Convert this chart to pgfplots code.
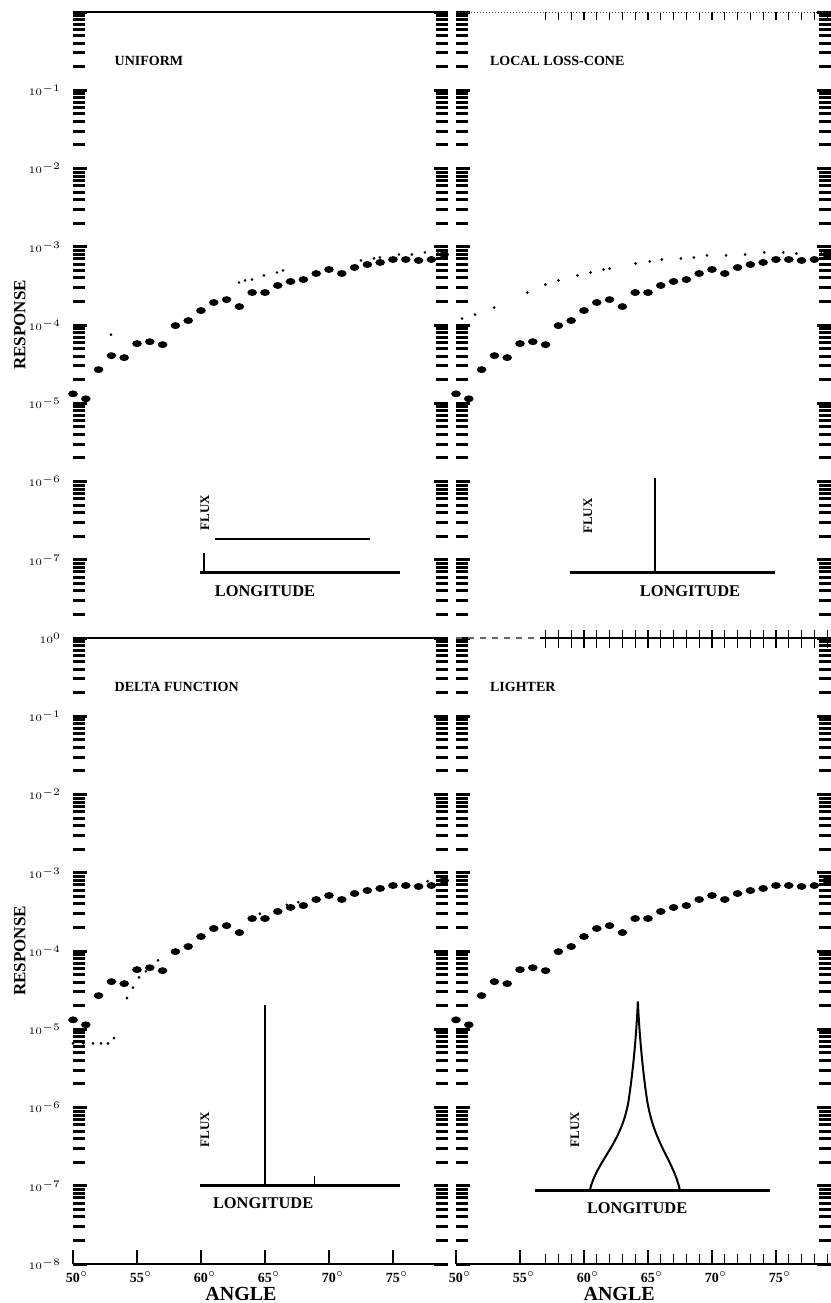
\documentclass[border=0pt]{standalone}
\usepackage{fontspec}
\setmainfont{Liberation Serif}
\usepackage{pgfplots}
\pgfplotsset{compat=1.18}
\usepackage{pgfplotstable}

\pgfplotstableread{
x y
50 1.32e-5
51 1.14e-5
52 2.69e-5
53 4.06e-5
54 3.83e-5
55 5.78e-5
56 6.12e-5
57 5.61e-5
58 9.82e-5
59 1.14e-4
60 1.53e-4
61 1.94e-4
62 2.11e-4
63 1.72e-4
64 2.60e-4
65 2.60e-4
66 3.20e-4
67 3.60e-4
68 3.81e-4
69 4.55e-4
70 5.12e-4
71 4.55e-4
72 5.43e-4
73 5.93e-4
74 6.30e-4
75 6.87e-4
76 6.87e-4
77 6.68e-4
78 6.87e-4
79 7.96e-4
}\maindata

\pgfplotstableread{
x y
52.97 7.53e-5
62.97 3.49e-4
63.44 3.71e-4
63.98 3.81e-4
64.92 4.30e-4
65.94 4.69e-4
66.41 4.98e-4
72.5 6.68e-4
73.52 7.08e-4
73.98 7.29e-4
75.47 7.96e-4
76.48 7.96e-4
77.5 8.45e-4
78.52 8.20e-4
}\dotA

\pgfplotstableread{
x y
50.47 1.21e-4
51.49 1.36e-4
52.98 1.67e-4
55.57 2.60e-4
56.98 3.29e-4
58.0 3.71e-4
59.49 4.30e-4
60.51 4.69e-4
61.53 5.12e-4
62.0 5.27e-4
64.04 6.11e-4
65.14 6.49e-4
66.08 6.87e-4
67.57 7.08e-4
68.59 7.29e-4
69.61 7.74e-4
71.1 7.74e-4
72.59 7.96e-4
74.08 8.45e-4
75.57 8.45e-4
76.59 8.20e-4
78.55 8.20e-4
}\dotB

\pgfplotstableread{
x y
50.0 6.6e-6
50.8 6.6e-6
51.56 6.6e-6
52.19 6.6e-6
52.73 6.6e-6
53.2 7.7e-6
54.22 2.5e-5
54.69 3.4e-5
55.16 4.6e-5
55.7 5.5e-5
56.64 7.6e-5
64.6 3.0e-4
66.7 3.9e-4
67.6 4.2e-4
75.0 7.1e-4
77.7 7.8e-4
}\dotC

\tikzset{
  rsttl/.style={anchor=west, inner sep=0pt, font=\fontsize{7}{7}\selectfont\bfseries},
  rslon/.style={font=\fontsize{8.2}{8.2}\selectfont\bfseries},
  rsflx/.style={rotate=90, font=\fontsize{6.5}{6.5}\selectfont\bfseries},
  rsresp/.style={rotate=90, font=\fontsize{8.5}{8.5}\selectfont\bfseries},
  rsang/.style={font=\fontsize{10}{10}\selectfont\bfseries},
}

\begin{document}
\begin{tikzpicture}
\path[use as bounding box] (0,0) rectangle (415.5pt,651.5pt);

% ---------- top left: UNIFORM
\begin{axis}[at={(36.5pt,332.5pt)}, anchor=south west,
    scale only axis, width=187.5pt, height=313pt,
    xmin=50, xmax=79.3, ymode=log, ymin=1e-8, ymax=1,
    axis line style={draw=none}, clip=false, tick align=inside,
    tick style={black, line width=1.5pt},
    major tick length=7pt, minor tick length=6pt,
    ytick={1e-8,1e-7,1e-6,1e-5,1e-4,1e-3,1e-2,1e-1,1},
    minor ytick={2e-8,3e-8,4e-8,5e-8,6e-8,7e-8,8e-8,9e-8,
      2e-7,3e-7,4e-7,5e-7,6e-7,7e-7,8e-7,9e-7,
      2e-6,3e-6,4e-6,5e-6,6e-6,7e-6,8e-6,9e-6,
      2e-5,3e-5,4e-5,5e-5,6e-5,7e-5,8e-5,9e-5,
      2e-4,3e-4,4e-4,5e-4,6e-4,7e-4,8e-4,9e-4,
      2e-3,3e-3,4e-3,5e-3,6e-3,7e-3,8e-3,9e-3,
      2e-2,3e-2,4e-2,5e-2,6e-2,7e-2,8e-2,9e-2,
      2e-1,3e-1,4e-1,5e-1,6e-1,7e-1,8e-1,9e-1},
    yticklabel style={font=\tiny, xshift=-2.5pt},
    xtick=\empty,
    yticklabels={,$10^{-7}$,$10^{-6}$,$10^{-5}$,$10^{-4}$,$10^{-3}$,$10^{-2}$,$10^{-1}$,}]
\addplot[only marks, mark=*, mark size=1.5pt, black, mark options={xscale=1.45}] table {\maindata};
\addplot[only marks, mark=*, mark size=0.45pt, black] table {\dotA};
\draw[line width=1.4pt] (rel axis cs:0,1) -- (rel axis cs:1,1);
\draw[line width=1.4pt] (rel axis cs:0,0) -- (rel axis cs:1,0);
\node[rsttl] at (rel axis cs:0.11,0.922) {UNIFORM};
\node[rsresp] at (rel axis cs:-0.142,0.5) {RESPONSE};
\draw[line width=1.6pt] (rel axis cs:0.339,0.104) -- (rel axis cs:0.872,0.104);
\draw[line width=1.2pt] (rel axis cs:0.379,0.158) -- (rel axis cs:0.792,0.158);
\draw[line width=1pt] (rel axis cs:0.35,0.104) -- (rel axis cs:0.35,0.135);
\node[rsflx] at (rel axis cs:0.352,0.2) {FLUX};
\node[rslon] at (rel axis cs:0.512,0.075) {LONGITUDE};
\end{axis}

% ---------- top right: LOCAL LOSS-CONE
\begin{axis}[at={(228pt,332.5pt)}, anchor=south west,
    scale only axis, width=187.5pt, height=313pt,
    xmin=50, xmax=79.3, ymode=log, ymin=1e-8, ymax=1,
    axis line style={draw=none}, clip=false, tick align=inside,
    tick style={black, line width=1.5pt},
    major tick length=7pt, minor tick length=6pt,
    ytick={1e-8,1e-7,1e-6,1e-5,1e-4,1e-3,1e-2,1e-1,1},
    minor ytick={2e-8,3e-8,4e-8,5e-8,6e-8,7e-8,8e-8,9e-8,
      2e-7,3e-7,4e-7,5e-7,6e-7,7e-7,8e-7,9e-7,
      2e-6,3e-6,4e-6,5e-6,6e-6,7e-6,8e-6,9e-6,
      2e-5,3e-5,4e-5,5e-5,6e-5,7e-5,8e-5,9e-5,
      2e-4,3e-4,4e-4,5e-4,6e-4,7e-4,8e-4,9e-4,
      2e-3,3e-3,4e-3,5e-3,6e-3,7e-3,8e-3,9e-3,
      2e-2,3e-2,4e-2,5e-2,6e-2,7e-2,8e-2,9e-2,
      2e-1,3e-1,4e-1,5e-1,6e-1,7e-1,8e-1,9e-1},
    yticklabels={},
    xtick=\empty,
    extra x ticks={57,58,59,60,61,62,63,64,65,66,67,68,69,70,71,72,73,74,75,76,77,78,79},
    extra x tick labels={},
    extra x tick style={tick style={line width=0.6pt}, major tick length=4pt}]
\addplot[only marks, mark=*, mark size=1.5pt, black, mark options={xscale=1.45}] table {\maindata};
\addplot[only marks, mark=*, mark size=0.45pt, black] table {\dotB};
\draw[line width=0.5pt, densely dotted, black!70] (rel axis cs:0,1) -- (rel axis cs:1,1);
\draw[line width=0.6pt, dashed, black!60] (rel axis cs:0,0) -- (rel axis cs:0.224,0);
\draw[line width=1.4pt] (rel axis cs:0.224,0) -- (rel axis cs:1,0);
\node[rsttl] at (rel axis cs:0.09,0.922) {LOCAL LOSS-CONE};
\draw[line width=1.6pt] (rel axis cs:0.304,0.104) -- (rel axis cs:0.851,0.104);
\draw[line width=1pt] (rel axis cs:0.531,0.104) -- (rel axis cs:0.531,0.256);
\node[rsflx] at (rel axis cs:0.352,0.195) {FLUX};
\node[rslon] at (rel axis cs:0.624,0.075) {LONGITUDE};
\end{axis}

% ---------- bottom left: DELTA FUNCTION
\begin{axis}[at={(36.5pt,19.5pt)}, anchor=south west,
    scale only axis, width=187.5pt, height=313pt,
    xmin=50, xmax=79.3, ymode=log, ymin=1e-8, ymax=1,
    axis line style={draw=none}, clip=false, tick align=inside,
    tick style={black, line width=1.5pt},
    major tick length=7pt, minor tick length=6pt,
    ytick={1e-8,1e-7,1e-6,1e-5,1e-4,1e-3,1e-2,1e-1,1},
    minor ytick={2e-8,3e-8,4e-8,5e-8,6e-8,7e-8,8e-8,9e-8,
      2e-7,3e-7,4e-7,5e-7,6e-7,7e-7,8e-7,9e-7,
      2e-6,3e-6,4e-6,5e-6,6e-6,7e-6,8e-6,9e-6,
      2e-5,3e-5,4e-5,5e-5,6e-5,7e-5,8e-5,9e-5,
      2e-4,3e-4,4e-4,5e-4,6e-4,7e-4,8e-4,9e-4,
      2e-3,3e-3,4e-3,5e-3,6e-3,7e-3,8e-3,9e-3,
      2e-2,3e-2,4e-2,5e-2,6e-2,7e-2,8e-2,9e-2,
      2e-1,3e-1,4e-1,5e-1,6e-1,7e-1,8e-1,9e-1},
    yticklabel style={font=\tiny, xshift=-2.5pt},
    yticklabels={$10^{-8}$,$10^{-7}$,$10^{-6}$,$10^{-5}$,$10^{-4}$,$10^{-3}$,$10^{-2}$,$10^{-1}$,$10^{0}$},
    xtick={50,55,60,65,70,75},
    xtick pos=bottom,
    x tick style={line width=0.6pt},
    xticklabel style={font=\scriptsize\bfseries, xshift=2pt},
    xticklabels={\textbf{50}$^\circ$,\textbf{55}$^\circ$,\textbf{60}$^\circ$,\textbf{65}$^\circ$,\textbf{70}$^\circ$,\textbf{75}$^\circ$}]
\addplot[only marks, mark=*, mark size=1.5pt, black, mark options={xscale=1.45}] table {\maindata};
\addplot[only marks, mark=*, mark size=0.45pt, black] table {\dotC};
\draw[line width=1.4pt] (rel axis cs:0,1) -- (rel axis cs:1,1);
\draw[line width=1.4pt] (rel axis cs:0,0) -- (rel axis cs:1,0);
\node[rsttl] at (rel axis cs:0.11,0.922) {DELTA FUNCTION};
\node[rsresp] at (rel axis cs:-0.142,0.5) {RESPONSE};
\draw[line width=1.6pt] (rel axis cs:0.339,0.126) -- (rel axis cs:0.872,0.126);
\draw[line width=1pt] (rel axis cs:0.512,0.126) -- (rel axis cs:0.512,0.414);
\draw[line width=0.6pt] (rel axis cs:0.645,0.126) -- (rel axis cs:0.645,0.14);
\node[rsflx] at (rel axis cs:0.352,0.215) {FLUX};
\node[rslon] at (rel axis cs:0.507,0.097) {LONGITUDE};
\node[rsang] at (rel axis cs:0.448,0) [yshift=-15pt] {ANGLE};
\end{axis}

% ---------- bottom right: LIGHTER
\begin{axis}[at={(228pt,19.5pt)}, anchor=south west,
    scale only axis, width=187.5pt, height=313pt,
    xmin=50, xmax=79.3, ymode=log, ymin=1e-8, ymax=1,
    axis line style={draw=none}, clip=false, tick align=inside,
    tick style={black, line width=1.5pt},
    major tick length=7pt, minor tick length=6pt,
    ytick={1e-8,1e-7,1e-6,1e-5,1e-4,1e-3,1e-2,1e-1,1},
    minor ytick={2e-8,3e-8,4e-8,5e-8,6e-8,7e-8,8e-8,9e-8,
      2e-7,3e-7,4e-7,5e-7,6e-7,7e-7,8e-7,9e-7,
      2e-6,3e-6,4e-6,5e-6,6e-6,7e-6,8e-6,9e-6,
      2e-5,3e-5,4e-5,5e-5,6e-5,7e-5,8e-5,9e-5,
      2e-4,3e-4,4e-4,5e-4,6e-4,7e-4,8e-4,9e-4,
      2e-3,3e-3,4e-3,5e-3,6e-3,7e-3,8e-3,9e-3,
      2e-2,3e-2,4e-2,5e-2,6e-2,7e-2,8e-2,9e-2,
      2e-1,3e-1,4e-1,5e-1,6e-1,7e-1,8e-1,9e-1},
    yticklabels={},
    xtick={50,55,60,65,70,75},
    xtick pos=bottom,
    x tick style={line width=0.6pt},
    xticklabel style={font=\scriptsize\bfseries, xshift=2pt},
    xticklabels={\textbf{50}$^\circ$,\textbf{55}$^\circ$,\textbf{60}$^\circ$,\textbf{65}$^\circ$,\textbf{70}$^\circ$,\textbf{75}$^\circ$},
    extra x ticks={57,58,59,60,61,62,63,64,65,66,67,68,69,70,71,72,73,74,75,76,77,78,79},
    extra x tick labels={},
    extra x tick style={xtick pos=both, tick style={line width=0.6pt}, major tick length=5pt}]
\addplot[only marks, mark=*, mark size=1.5pt, black, mark options={xscale=1.45}] table {\maindata};
\draw[line width=0.6pt, dashed, black!60] (rel axis cs:0,1) -- (rel axis cs:0.224,1);
\draw[line width=1.4pt] (rel axis cs:0.224,1) -- (rel axis cs:1,1);
\draw[line width=1.4pt] (rel axis cs:0,0) -- (rel axis cs:1,0);
\node[rsttl] at (rel axis cs:0.09,0.922) {LIGHTER};
\draw[line width=1.6pt] (rel axis cs:0.211,0.118) -- (rel axis cs:0.837,0.118);
\draw[line width=1pt] (rel axis cs:0.357,0.118) .. controls (rel axis cs:0.375,0.165) and (rel axis cs:0.44,0.19) .. (rel axis cs:0.46,0.26) .. controls (rel axis cs:0.475,0.32) and (rel axis cs:0.482,0.38) .. (rel axis cs:0.485,0.419);
\draw[line width=1pt] (rel axis cs:0.597,0.118) .. controls (rel axis cs:0.58,0.165) and (rel axis cs:0.53,0.19) .. (rel axis cs:0.51,0.26) .. controls (rel axis cs:0.495,0.32) and (rel axis cs:0.488,0.38) .. (rel axis cs:0.485,0.419);
\node[rsflx] at (rel axis cs:0.317,0.215) {FLUX};
\node[rslon] at (rel axis cs:0.483,0.09) {LONGITUDE};
\node[rsang] at (rel axis cs:0.435,0) [yshift=-15pt] {ANGLE};
\end{axis}
\end{tikzpicture}
\end{document}
